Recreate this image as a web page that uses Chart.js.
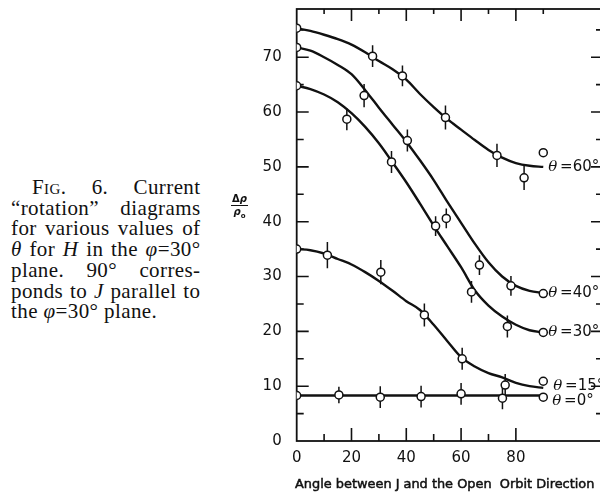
<!DOCTYPE html>
<html>
<head>
<meta charset="utf-8">
<script src="https://cdn.jsdelivr.net/npm/chart.js@4.4.1/dist/chart.umd.min.js"></script>
<style>
    html, body { margin: 0; padding: 0; background: #fff; overflow: hidden; }
    #wrap { position: relative; width: 600px; height: 494px; overflow: hidden; }
    #chartBox { position: absolute; left: 230px; top: 0; width: 380px; height: 494px; }
    .caption {
        position: absolute; left: 11px; top: 177px; width: 189.5px;
        font-family: "Liberation Serif", serif; font-size: 21px; line-height: 20.7px; color: #111;
        letter-spacing: 0.4px;
    }
    .caption div { text-align: justify; text-align-last: justify; white-space: nowrap; }
    .caption div.first { padding-left: 21px; }
    .caption div.last { text-align-last: left; }
    .sc { font-variant: small-caps; }
    #ylab {
        position: absolute; left: 231px; top: 193px; width: 17px;
        font-family: "DejaVu Sans", sans-serif; font-weight: bold; font-size: 10px; color: #111;
        text-align: center; line-height: 11px;
    }
    #ylab .num { border-bottom: 1.5px solid #111; padding-bottom: 1px; }
    #ylab sub { font-size: 7px; }
</style>
</head>
<body>
<div id="wrap">
    <div class="caption">
        <div class="first">F<span class="sc">ig</span>. 6. Current</div>
        <div>“rotation” diagrams</div>
        <div>for various values of</div>
        <div><i>θ</i> for <i>H</i> in the <i>φ</i>=30°</div>
        <div>plane. 90° corres-</div>
        <div>ponds to <i>J</i> parallel to</div>
        <div class="last">the <i>φ</i>=30° plane.</div>
    </div>
    <div id="chartBox"><canvas id="rotationChart" width="380" height="494"></canvas></div>
    <div id="ylab"><div class="num">Δ<i>ρ</i></div><div><i>ρ</i><sub>o</sub></div></div>
</div>

<script>
// Etiquetas de los ejes
const xTickValues = [0, 20, 40, 60, 80];
const yTickValues = [0, 10, 20, 30, 40, 50, 60, 70];
const topTicks = [10, 20, 30, 40, 50, 60, 70, 80, 90];
const bottomTicks = [10, 20, 30, 40, 50, 60, 70, 80];
const sideTicks = [5, 10, 15, 20, 25, 30, 35, 40, 45, 50, 55, 60, 65, 70, 75];
const seriesNames = ['60°', '40°', '30°', '15°', '0°'];

// Puntos medidos (ángulo, Δρ/ρ0, media barra de error)
const angles60 = [0, 27.7, 38.6, 54.3, 73.1, 83.0, 90];
const rho60 = [75.3, 70.2, 66.6, 59.0, 52.1, 48.0, 52.6];
const err60 = [0, 2.0, 1.9, 2.2, 2.1, 2.2, 0];

const angles40 = [0, 24.6, 40.4, 54.6, 66.7, 78.2, 90];
const rho40 = [71.8, 63.0, 54.8, 40.6, 32.1, 28.3, 26.9];
const err40 = [0, 2.1, 2.0, 1.8, 1.8, 1.8, 0];

const angles30 = [0, 18.3, 34.6, 50.7, 63.8, 76.9, 90];
const rho30 = [64.8, 58.7, 50.9, 39.2, 27.2, 20.9, 19.8];
const err30 = [0, 2.0, 2.0, 1.8, 2.0, 2.0, 0];

const angles15 = [0, 11.2, 30.7, 46.6, 60.4, 76.1, 90];
const rho15 = [35.0, 33.9, 30.8, 23.0, 15.0, 10.2, 10.9];
const err15 = [0, 2.4, 2.2, 2.1, 2.0, 2.0, 0];

const angles0 = [0, 15.4, 30.5, 45.4, 60.0, 75.1, 90];
const rho0 = [8.3, 8.4, 8.0, 8.1, 8.6, 7.8, 8.0];
const err0 = [0, 1.5, 2.0, 2.0, 2.0, 2.0, 0];

// Curvas suaves trazadas a mano
const curveAngles = [0, 5, 10, 15, 20, 25, 30, 35, 40, 45, 50, 55, 60, 65, 70, 75, 80, 85, 90];
const curve60 = [75.3, 74.8, 74.1, 73.3, 72.3, 70.9, 69.3, 67.8, 65.9, 63.3, 60.9, 58.7, 56.8, 54.9, 53.1, 51.7, 50.7, 50.2, 50.0];
const curve40 = [71.8, 71.2, 70.0, 68.6, 66.9, 64.0, 60.8, 57.7, 54.6, 51.2, 47.6, 43.6, 39.8, 36.0, 32.6, 30.0, 28.3, 27.4, 27.0];
const curve30 = [64.8, 64.2, 63.2, 61.8, 59.8, 57.3, 54.3, 50.8, 47.2, 43.3, 39.3, 35.5, 31.7, 27.5, 24.7, 22.7, 21.2, 20.2, 19.8];
const curve15 = [35.0, 34.8, 34.2, 33.2, 32.2, 30.8, 29.2, 27.4, 25.5, 23.9, 21.2, 18.2, 15.3, 13.6, 12.4, 11.6, 10.6, 10.0, 9.7];
const curve0Angles = [0, 90];
const curve0 = [8.3, 8.3];

const series = [
    { xs: angles60, ys: rho60, errs: err60, cx: curveAngles, cy: curve60 },
    { xs: angles40, ys: rho40, errs: err40, cx: curveAngles, cy: curve40 },
    { xs: angles30, ys: rho30, errs: err30, cx: curveAngles, cy: curve30 },
    { xs: angles15, ys: rho15, errs: err15, cx: curveAngles, cy: curve15 },
    { xs: angles0, ys: rho0, errs: err0, cx: curve0Angles, cy: curve0 }
];

const ink = '#111';
const toPoints = (xs, ys) => xs.map((v, i) => ({ x: v, y: ys[i] }));

const datasets = [];
series.forEach(s => {
    datasets.push({
        type: 'scatter',
        data: toPoints(s.xs, s.ys),
        pointRadius: 4,
        pointBackgroundColor: '#fff',
        pointBorderColor: ink,
        pointBorderWidth: 1.5,
        order: 1
    });
    datasets.push({
        type: 'line',
        data: toPoints(s.cx, s.cy),
        borderColor: ink,
        borderWidth: 2.4,
        pointRadius: 0,
        cubicInterpolationMode: 'monotone',
        fill: false,
        order: 2
    });
});

// Sin relleno extra de Chart.js: el área del gráfico queda donde la fijamos
function noScalePadding(s) {
    s.paddingTop = 0;
    s.paddingBottom = 0;
    s.paddingLeft = 0;
    s.paddingRight = 0;
}

// Marco, marcas de los ejes y barras de error
const frameAndBars = {
    id: 'frameAndBars',
    beforeDatasetsDraw(chart) {
        const { ctx, chartArea: a, scales: { x, y } } = chart;
        ctx.save();
        ctx.strokeStyle = ink;
        ctx.lineWidth = 1.8;
        ctx.strokeRect(a.left, a.top, a.right - a.left, a.bottom - a.top);

        ctx.lineWidth = 1.6;
        ctx.beginPath();
        topTicks.forEach(v => {
            const px = x.getPixelForValue(v);
            const len = v % 20 === 0 ? 12 : 5;
            ctx.moveTo(px, a.top);
            ctx.lineTo(px, a.top + len);
        });
        bottomTicks.forEach(v => {
            const px = x.getPixelForValue(v);
            const len = v % 20 === 0 ? 13 : 7;
            ctx.moveTo(px, a.bottom);
            ctx.lineTo(px, a.bottom - len);
        });
        sideTicks.forEach(v => {
            const py = y.getPixelForValue(v);
            const len = v % 10 === 0 ? 12 : 7;
            ctx.moveTo(a.left, py);
            ctx.lineTo(a.left + len, py);
            ctx.moveTo(a.right, py);
            ctx.lineTo(a.right - len, py);
        });
        ctx.stroke();

        ctx.lineWidth = 1.5;
        ctx.beginPath();
        series.forEach(s => {
            s.xs.forEach((v, i) => {
                if (!s.errs[i]) return;
                const px = x.getPixelForValue(v);
                ctx.moveTo(px, y.getPixelForValue(s.ys[i] + s.errs[i]));
                ctx.lineTo(px, y.getPixelForValue(s.ys[i] - s.errs[i]));
            });
        });
        ctx.stroke();
        ctx.restore();
    },
    afterDatasetsDraw(chart) {
        const { ctx, chartArea: a, scales: { x, y } } = chart;
        const xOffsets = [5, 5, 5, 10, 9];
        const yOffsets = [0, 0, 0, -2, 6];
        ctx.save();
        ctx.fillStyle = ink;
        ctx.textBaseline = 'middle';
        series.forEach((s, i) => {
            const px = x.getPixelForValue(90) + xOffsets[i];
            const py = y.getPixelForValue(s.cy[s.cy.length - 1]) + yOffsets[i];
            ctx.font = 'italic 15px "DejaVu Serif"';
            ctx.fillText('θ', px, py);
            const w = ctx.measureText('θ').width;
            ctx.font = '15px "DejaVu Sans"';
            ctx.fillText(' =' + seriesNames[i], px + w - 2, py);
        });

        // Título del eje x
        ctx.font = '12.9px "DejaVu Sans"';
        ctx.textAlign = 'center';
        ctx.textBaseline = 'alphabetic';
        ctx.strokeStyle = ink;
        ctx.lineWidth = 0.5;
        const title = 'Angle between J and the Open  Orbit Direction';
        ctx.fillText(title, a.left + 148, 488);
        ctx.strokeText(title, a.left + 148, 488);
        ctx.restore();
    }
};

new Chart(document.getElementById('rotationChart'), {
    data: { datasets: datasets },
    plugins: [frameAndBars],
    options: {
        responsive: false,
        animation: false,
        devicePixelRatio: 1,
        layout: { padding: { top: 9, right: 7, left: 0, bottom: 0 } },
        plugins: { legend: { display: false }, tooltip: { enabled: false } },
        scales: {
            x: {
                type: 'linear',
                min: 0,
                max: 111.8,
                afterBuildTicks: s => { s.ticks = xTickValues.map(v => ({ value: v })); },
                afterFit: s => { s.height = 53; noScalePadding(s); },
                grid: { display: false, drawTicks: false },
                border: { display: false },
                ticks: {
                    padding: 8,
                    autoSkip: false,
                    maxRotation: 0,
                    color: ink,
                    font: { family: 'DejaVu Sans', size: 15 }
                }
            },
            y: {
                type: 'linear',
                min: 0,
                max: 78.8,
                afterBuildTicks: s => { s.ticks = yTickValues.map(v => ({ value: v })); },
                afterFit: s => { s.width = 66.7; noScalePadding(s); },
                grid: { display: false, drawTicks: false },
                border: { display: false },
                ticks: {
                    padding: 15,
                    color: ink,
                    font: { family: 'DejaVu Sans', size: 15 }
                }
            }
        }
    }
});
</script>
</body>
</html>
